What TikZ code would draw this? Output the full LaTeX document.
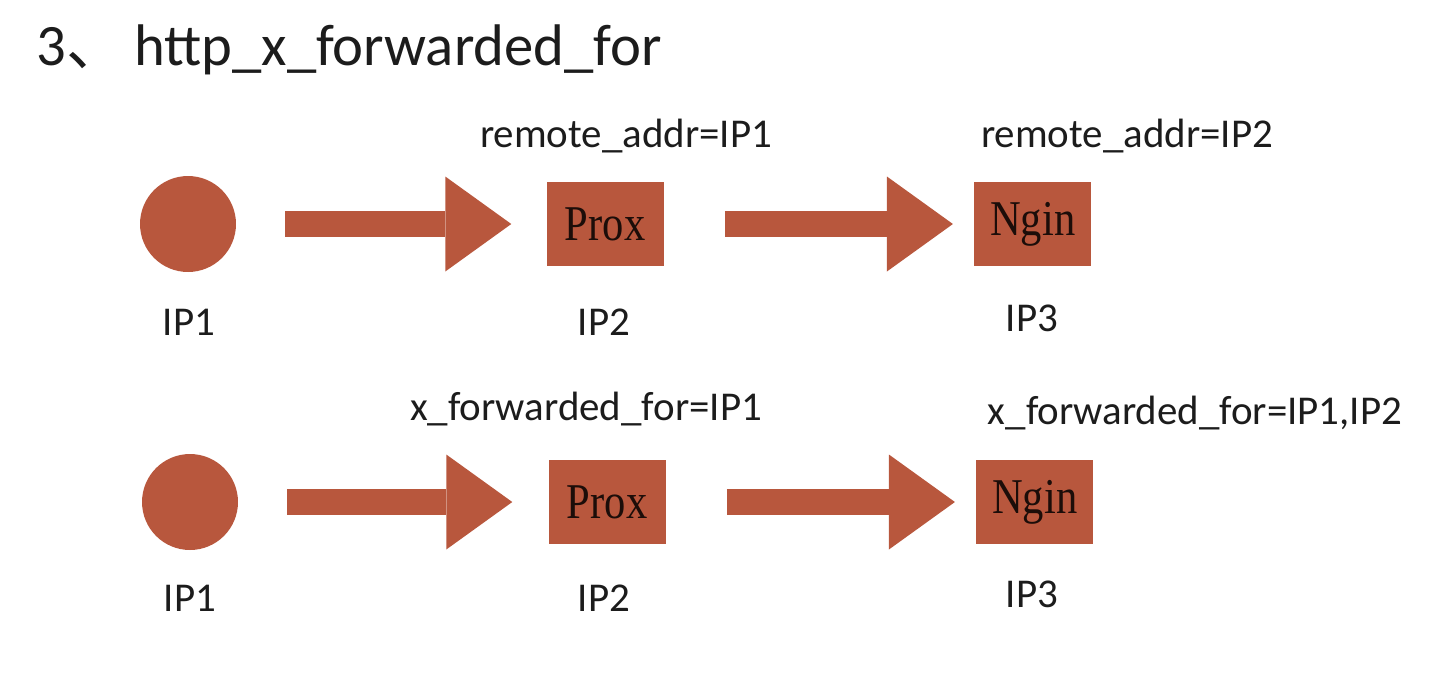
\documentclass[tikz,border=0pt]{standalone}
\usepackage{fontspec}
\setmainfont{Carlito}
\newfontfamily\cjk{Noto Sans CJK SC}
\newfontfamily\boxfont{Liberation Serif}
\usetikzlibrary{positioning,arrows.meta}
\definecolor{brick}{HTML}{B8573D}
\definecolor{ink}{HTML}{1C1C1C}
\newcommand{\boxtext}[1]{\scalebox{0.85}[1]{#1}}

\begin{document}
\begin{tikzpicture}[x=0.02cm,y=-0.02cm,node distance=6.2cm,
  host/.style={circle,fill=brick,minimum size=1.92cm,inner sep=0pt},
  srv/.style={fill=brick,minimum width=2.34cm,minimum height=1.68cm,inner sep=0pt,font=\boxfont\fontsize{28.5}{28.5}\selectfont,text=black!85!brick},
  lbl/.style={anchor=base,inner sep=0pt,text=ink,font=\fontsize{23.3}{24}\selectfont},
  flow/.style={draw=brick,line width=0.52cm,-{Triangle[length=1.32cm,width=1.9cm,line width=0pt]}}]
\useasboundingbox (0,0) rectangle (1456,684);
\node[anchor=base west,inner sep=0pt,text=ink,font=\fontsize{33.4}{34}\selectfont] (title) at (36,65) {3{\cjk 、}\hspace{0.16em}http\_x\_forwarded\_for};
% remote_addr row
\node[host] (c1) at (188,224) {};
\node[srv,right=of c1] (p1) {\boxtext{Prox}};
\node[srv,right=of p1] (n1) {\boxtext{Ngin}};
\draw[flow,shorten <=0.98cm,shorten >=0.7cm] (c1.east)--(p1.west);
\draw[flow,shorten <=1.22cm,shorten >=0.42cm] (p1.east)--(n1.west);
\node[lbl] (ra1) at (626,147) {remote\_addr=IP1};
\node[lbl] (ra2) at (1127,147) {remote\_addr=IP2};
\node[lbl] (ip1a) at (189,335) {IP1};
\node[lbl] (ip2a) at (604,335) {IP2};
\node[lbl] (ip3a) at (1032,331) {IP3};
% x_forwarded_for row
\node[host] (c2) at (190,502) {};
\node[srv,right=of c2] (p2) {\boxtext{Prox}};
\node[srv,right=of p2] (n2) {\boxtext{Ngin}};
\draw[flow,shorten <=0.98cm,shorten >=0.72cm] (c2.east)--(p2.west);
\draw[flow,shorten <=1.22cm,shorten >=0.42cm] (p2.east)--(n2.west);
\node[lbl] (xf1) at (586,420) {x\_forwarded\_for=IP1};
\node[lbl] (xf2) at (1195,424) {x\_forwarded\_for=IP1,IP2};
\node[lbl] (ip1b) at (190,611) {IP1};
\node[lbl] (ip2b) at (604,611) {IP2};
\node[lbl] (ip3b) at (1032,607) {IP3};
\end{tikzpicture}
\end{document}
